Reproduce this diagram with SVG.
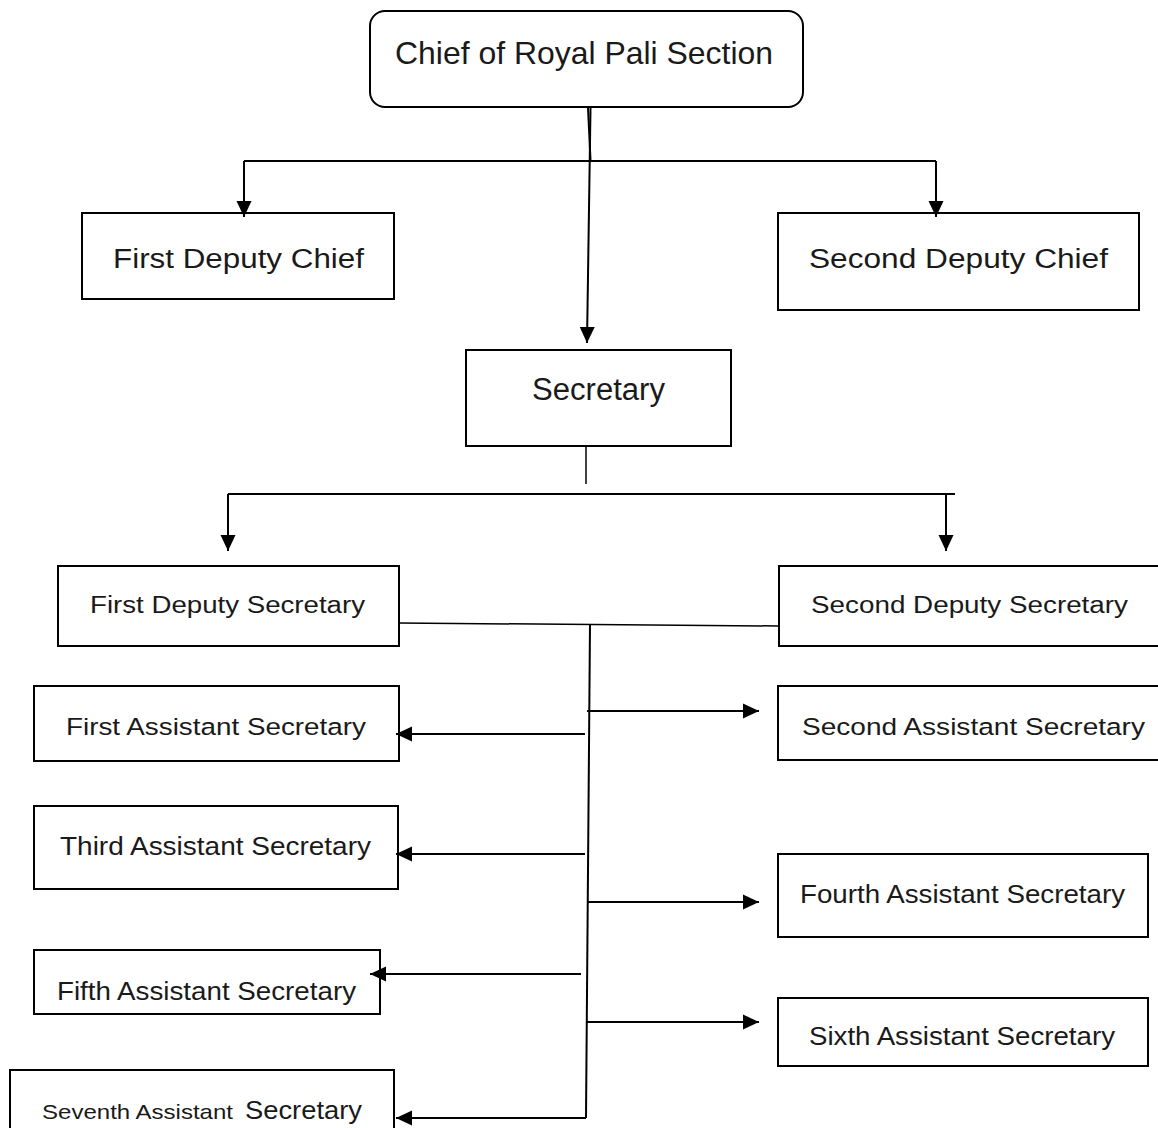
<svg xmlns="http://www.w3.org/2000/svg" width="1158" height="1128" viewBox="0 0 1158 1128">
<defs>
<marker id="arr" markerUnits="userSpaceOnUse" markerWidth="17" markerHeight="16" refX="16" refY="8" orient="auto">
<path d="M0,0.5 L16,8 L0,15.5 z" fill="#000"/>
</marker>
<style>
.box{fill:#fff;stroke:#000;stroke-width:2}
.ar{fill:#1a1a1a;font-family:"Liberation Sans",Arial,sans-serif}
.th{fill:#1a1a1a;font-family:"Liberation Sans",Arial,sans-serif;font-weight:normal}
.c{stroke:#000;stroke-width:2;fill:none}
.t{stroke:#000;stroke-width:1.5;fill:none}
.a{stroke:#000;stroke-width:2;fill:none;marker-end:url(#arr)}
</style>
</defs>
<rect width="1158" height="1128" fill="#fff"/>
<g id="chief">
<rect class="box" x="370" y="11" width="433" height="96" rx="15"/>
<text class="ar" x="395" y="64" font-size="31.5" textLength="378" lengthAdjust="spacingAndGlyphs">Chief of Royal Pali Section</text>
</g>
<g id="first-deputy-chief">
<rect class="box" x="82" y="213" width="312" height="86"/>
<text class="th" x="113" y="268" font-size="27" textLength="251" lengthAdjust="spacingAndGlyphs">First Deputy Chief</text>
</g>
<g id="second-deputy-chief">
<rect class="box" x="778" y="213" width="361" height="97"/>
<text class="th" x="809" y="268" font-size="27" textLength="299" lengthAdjust="spacingAndGlyphs">Second Deputy Chief</text>
</g>
<g id="secretary">
<rect class="box" x="466" y="350" width="265" height="96"/>
<text class="ar" x="532" y="400" font-size="31" textLength="133" lengthAdjust="spacingAndGlyphs">Secretary</text>
</g>
<g id="first-deputy-secretary">
<rect class="box" x="58" y="566" width="341" height="80"/>
<text class="th" x="90" y="613" font-size="23.5" textLength="275" lengthAdjust="spacingAndGlyphs">First Deputy Secretary</text>
</g>
<g id="second-deputy-secretary">
<rect class="box" x="779" y="566" width="400" height="80"/>
<text class="th" x="811" y="613" font-size="23.5" textLength="317" lengthAdjust="spacingAndGlyphs">Second Deputy Secretary</text>
</g>
<g id="first-assistant-secretary">
<rect class="box" x="34" y="686" width="365" height="75"/>
<text class="th" x="66" y="735" font-size="24.5" textLength="300" lengthAdjust="spacingAndGlyphs">First Assistant Secretary</text>
</g>
<g id="second-assistant-secretary">
<rect class="box" x="778" y="686" width="400" height="74"/>
<text class="th" x="802" y="735" font-size="24.5" textLength="343" lengthAdjust="spacingAndGlyphs">Second Assistant Secretary</text>
</g>
<g id="third-assistant-secretary">
<rect class="box" x="34" y="806" width="364" height="83"/>
<text class="th" x="60" y="855" font-size="25" textLength="311" lengthAdjust="spacingAndGlyphs">Third Assistant Secretary</text>
</g>
<g id="fourth-assistant-secretary">
<rect class="box" x="778" y="854" width="370" height="83"/>
<text class="th" x="800" y="903" font-size="25" textLength="325" lengthAdjust="spacingAndGlyphs">Fourth Assistant Secretary</text>
</g>
<g id="fifth-assistant-secretary">
<rect class="box" x="34" y="950" width="346" height="64"/>
<text class="th" x="57" y="1000" font-size="25" textLength="299" lengthAdjust="spacingAndGlyphs">Fifth Assistant Secretary</text>
</g>
<g id="sixth-assistant-secretary">
<rect class="box" x="778" y="998" width="370" height="68"/>
<text class="th" x="809" y="1045" font-size="25" textLength="306" lengthAdjust="spacingAndGlyphs">Sixth Assistant Secretary</text>
</g>
<g id="seventh-assistant-secretary">
<rect class="box" x="10" y="1070" width="384" height="80"/>
<text class="th" x="42" y="1119" font-size="21" textLength="191" lengthAdjust="spacingAndGlyphs">Seventh Assistant</text>
<text class="th" x="245" y="1119" font-size="25" textLength="117" lengthAdjust="spacingAndGlyphs">Secretary</text>
</g>
<g id="connectors">
<line class="c" x1="588" y1="108" x2="590.5" y2="160"/>
<line class="a" x1="590.5" y1="108" x2="587" y2="343"/>
<line class="c" x1="244" y1="161" x2="936" y2="161"/>
<line class="a" x1="244" y1="161" x2="244" y2="217"/>
<line class="a" x1="936" y1="161" x2="936" y2="217"/>
<line class="t" x1="586" y1="446" x2="586" y2="484"/>
<line class="c" x1="228" y1="494" x2="955" y2="494"/>
<line class="a" x1="228" y1="494" x2="228" y2="551"/>
<line class="a" x1="946" y1="494" x2="946" y2="551"/>
<line class="t" x1="399" y1="623" x2="778" y2="626"/>
<line class="c" x1="590" y1="624" x2="586" y2="1118"/>
<line class="a" x1="585" y1="734" x2="396" y2="734"/>
<line class="a" x1="585" y1="854" x2="396" y2="854"/>
<line class="a" x1="581" y1="974" x2="370" y2="974"/>
<line class="a" x1="586" y1="1118" x2="396" y2="1118"/>
<line class="a" x1="587" y1="711" x2="759" y2="711"/>
<line class="a" x1="587" y1="902" x2="759" y2="902"/>
<line class="a" x1="587" y1="1022" x2="759" y2="1022"/>
</g>
</svg>
